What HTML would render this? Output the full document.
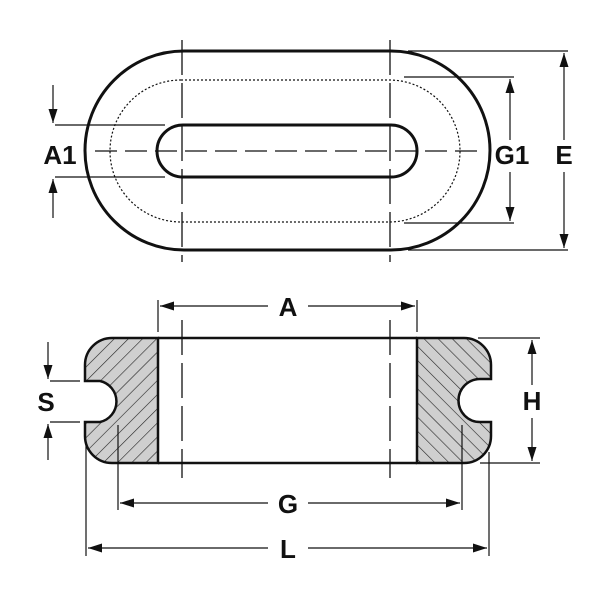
<!DOCTYPE html>
<html><head><style>body{margin:0;background:#fff}svg{display:block}</style></head><body>
<svg width="600" height="600" viewBox="0 0 600 600" xmlns="http://www.w3.org/2000/svg">
<defs>
<marker id="ar" markerWidth="14" markerHeight="9" refX="14" refY="4.5" orient="auto" markerUnits="userSpaceOnUse"><path d="M0,0L14,4.5L0,9Z" fill="#111"/></marker>
<pattern id="h1" width="10" height="10" patternUnits="userSpaceOnUse" patternTransform="rotate(45)"><rect width="10" height="10" fill="#cfcfcf"/><line x1="0" y1="0" x2="0" y2="10" stroke="#222" stroke-width="1.2"/></pattern>
<pattern id="h2" width="10" height="10" patternUnits="userSpaceOnUse" patternTransform="rotate(-45)"><rect width="10" height="10" fill="#cfcfcf"/><line x1="0" y1="0" x2="0" y2="10" stroke="#222" stroke-width="1.2"/></pattern>
</defs>
<g fill="none" stroke="#111">
<path d="M184,51 H391 A99,99.5 0 0 1 391,250 H184 A99,99.5 0 0 1 184,51 Z" stroke-width="3"/>
<path d="M181,80 H389 A71,71 0 0 1 389,222 H181 A71,71 0 0 1 181,80 Z" stroke-width="1.2" stroke-dasharray="2,2"/>
<path d="M183,125 H391 A26,26 0 0 1 391,177 H183 A26,26 0 0 1 183,125 Z" stroke-width="3"/>
<line x1="95" y1="151" x2="480" y2="151" stroke-width="1.3" stroke-dasharray="22,8"/>
<line x1="182" y1="40" x2="182" y2="262" stroke-width="1.3" stroke-dasharray="35,8"/>
<line x1="390" y1="40" x2="390" y2="262" stroke-width="1.3" stroke-dasharray="35,8"/>
<g stroke-width="1.2">
<line x1="408" y1="51" x2="568" y2="51"/><line x1="408" y1="250" x2="568" y2="250"/>
<line x1="564" y1="140" x2="564" y2="53" marker-end="url(#ar)"/><line x1="564" y1="172" x2="564" y2="248" marker-end="url(#ar)"/>
<line x1="404" y1="77" x2="514" y2="77"/><line x1="404" y1="223" x2="514" y2="223"/>
<line x1="510" y1="140" x2="510" y2="79" marker-end="url(#ar)"/><line x1="510" y1="172" x2="510" y2="221" marker-end="url(#ar)"/>
<line x1="55" y1="125" x2="165" y2="125"/><line x1="55" y1="177" x2="165" y2="177"/>
<line x1="53" y1="85" x2="53" y2="123" marker-end="url(#ar)"/><line x1="53" y1="218" x2="53" y2="179" marker-end="url(#ar)"/>
</g>
<path d="M158,338 H112 A27,27 0 0 0 85,365 V381 H100 A21,21 0 0 1 100,422 H85 V436 A27,27 0 0 0 112,463 H158 Z" fill="url(#h1)" stroke-width="2.5"/>
<path d="M417,338 H464 A27,27 0 0 1 491,365 V379 H480 A21.5,21.5 0 0 0 480,422 H491 V436 A27,27 0 0 1 464,463 H417 Z" fill="url(#h2)" stroke-width="2.5"/>
<line x1="158" y1="338" x2="417" y2="338" stroke-width="2.5"/>
<line x1="158" y1="463" x2="417" y2="463" stroke-width="2.5"/>
<line x1="182" y1="320" x2="182" y2="478" stroke-width="1.3" stroke-dasharray="35,8"/>
<line x1="390" y1="320" x2="390" y2="478" stroke-width="1.3" stroke-dasharray="35,8"/>
<g stroke-width="1.2">
<line x1="158" y1="300" x2="158" y2="332"/><line x1="417" y1="300" x2="417" y2="332"/>
<line x1="268" y1="306" x2="160" y2="306" marker-end="url(#ar)"/><line x1="308" y1="306" x2="415" y2="306" marker-end="url(#ar)"/>
<line x1="118" y1="425" x2="118" y2="510"/><line x1="462" y1="425" x2="462" y2="510"/>
<line x1="268" y1="503" x2="120" y2="503" marker-end="url(#ar)"/><line x1="308" y1="503" x2="460" y2="503" marker-end="url(#ar)"/>
<line x1="86" y1="442" x2="86" y2="556"/><line x1="489" y1="452" x2="489" y2="556"/>
<line x1="268" y1="548" x2="88" y2="548" marker-end="url(#ar)"/><line x1="308" y1="548" x2="487" y2="548" marker-end="url(#ar)"/>
<line x1="478" y1="338" x2="540" y2="338"/><line x1="480" y1="463" x2="540" y2="463"/>
<line x1="532" y1="385" x2="532" y2="340" marker-end="url(#ar)"/><line x1="532" y1="418" x2="532" y2="461" marker-end="url(#ar)"/>
<line x1="50" y1="381" x2="80" y2="381"/><line x1="50" y1="422" x2="80" y2="422"/>
<line x1="48" y1="342" x2="48" y2="379" marker-end="url(#ar)"/><line x1="48" y1="460" x2="48" y2="424" marker-end="url(#ar)"/>
</g>
</g>
<g font-family="Liberation Sans, sans-serif" font-weight="bold" font-size="26" fill="#111" text-anchor="middle">
<text x="60" y="164">A1</text>
<text x="512" y="164">G1</text>
<text x="564" y="164">E</text>
<text x="288" y="316">A</text>
<text x="532" y="410">H</text>
<text x="46" y="411">S</text>
<text x="288" y="513">G</text>
<text x="288" y="558">L</text>
</g>
</svg>
</body></html>
